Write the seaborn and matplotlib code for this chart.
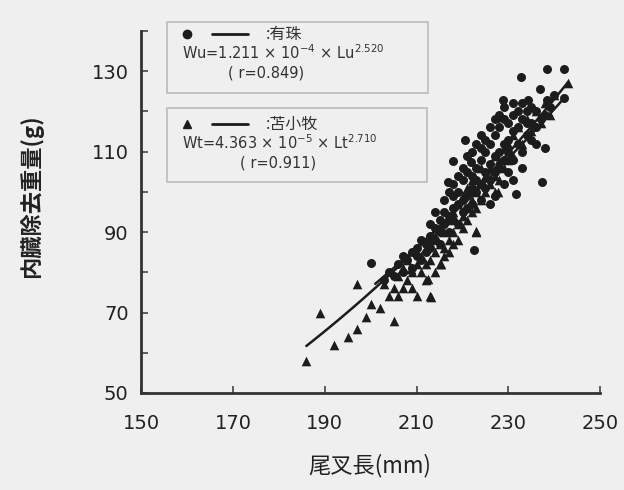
import numpy as np
import pandas as pd
import matplotlib
matplotlib.use("Agg")
import matplotlib.pyplot as plt
import seaborn as sns
from matplotlib.patches import Rectangle
from matplotlib.lines import Line2D

# 有珠 (circles)
usu_x = [238.3, 242, 232.7, 236.8, 228.8, 234.3, 238.3, 242, 227.7, 220.5, 217.9, 221.9,
         216.8, 237.2, 231.7, 237.9, 222.6, 200,
         203, 204, 205, 206, 207, 207, 208, 209, 209, 210, 210, 211, 211, 212, 212, 213, 213,
         214, 214, 215, 215, 215,
         216, 216, 217, 217, 218, 218, 219, 219, 219, 220, 220, 220, 221, 221, 222, 222, 222,
         223, 223, 223, 224, 224, 224, 225, 225, 225,
         226, 226, 226, 227, 227, 227, 228, 228, 228, 229, 229, 229, 230, 230, 230, 231, 231,
         231, 232, 232, 233, 233, 234, 234, 235, 235, 236, 236,
         213, 214, 216, 217, 218, 218, 219, 220, 221, 221, 222, 223, 224, 224, 225, 226, 227,
         228, 229, 230, 231, 232, 233, 234, 235, 236, 237, 238, 239, 240, 233, 231, 229, 227, 226]
usu_y = [130.6, 130.6, 128.5, 125.5, 122.7, 122.8, 122.8, 123.4, 118.3, 112.8, 107.6, 107.4,
         102.4, 102.4, 99.5, 110.8, 85.6, 82.3,
         78, 80, 79, 82, 80, 84, 83, 85, 81, 86, 84, 83, 88, 87, 85, 89, 86,
         88, 91, 90, 87, 93,
         92, 95, 94, 90, 96, 93, 97, 92, 100, 98, 95, 103, 99, 96, 101, 104, 97,
         100, 106, 103, 102, 108, 98, 105, 110, 101,
         107, 112, 103, 109, 114, 105, 110, 116, 106, 112, 108, 118, 113, 110, 105, 115, 108,
         119, 112, 116, 110, 118, 114, 120, 113, 117, 116, 120,
         92, 95, 98, 100, 99, 102, 104, 106, 105, 109, 110, 112, 111, 114, 113, 116, 118,
         119, 121, 117, 122, 120, 122, 117, 121, 112, 118, 119, 121, 124, 106, 103, 102, 99, 97]

# 苫小牧 (triangles)
toma_x = [186, 189, 192, 195, 197, 197, 199, 200, 202, 203, 204, 205, 205, 206, 206, 207, 207,
          208, 208, 209, 209, 210, 210, 210, 211, 211, 212, 212, 213, 213, 213, 214, 214, 215,
          215, 215, 216, 216, 217, 217, 218, 218, 219, 219, 220, 220, 221, 221, 222, 222, 223,
          223, 224, 224, 225, 226, 227, 227, 228, 229, 230, 231, 232, 234, 236, 238, 240, 243,
          212.4, 215.4, 223, 227.7, 208.8, 213.2,
          212, 214, 216, 217, 218, 219, 220, 221, 222, 223, 224, 225, 226, 227, 228, 229, 230,
          231, 233, 235, 237, 239]
toma_y = [58, 70, 62, 64, 66, 77, 69, 72, 71, 77, 74, 68, 76, 74, 79, 76, 81,
          78, 83, 80, 76, 74, 82, 85, 80, 84, 78, 86, 74, 83, 88, 85, 89, 82,
          87, 91, 86, 90, 88, 93, 90, 95, 92, 97, 94, 99, 96, 101, 98, 103, 90,
          100, 102, 106, 104, 106, 100, 109, 108, 111, 112, 114, 116, 118, 120, 122, 124, 127,
          78.3, 82, 90.3, 99.9, 80.8, 73.8,
          82, 80, 84, 85, 87, 88, 91, 93, 95, 96, 98, 100, 102, 104, 103, 106, 108,
          109, 112, 115, 117, 119]

# regression equations printed in the legend
usu_a, usu_b = 1.211e-4, 2.520
toma_a, toma_b = 4.363e-5, 2.710
usu_range = [201, 242]
toma_range = [186, 243]

x_ticks = [150, 170, 190, 210, 230, 250]
y_ticks = [50, 70, 90, 110, 130]

bg = "#efefef"
ink = "#1c1c1c"

sns.set_style("ticks")
plt.rcParams['font.family'] = ['DejaVu Sans', 'Noto Sans CJK JP']
plt.rcParams['mathtext.fontset'] = 'dejavusans'
cjk = ['Noto Sans CJK JP', 'DejaVu Sans']

fig = plt.figure(figsize=(6.24, 4.90), dpi=100, facecolor=bg)
ax = fig.add_axes([0.226, 0.198, 0.736, 0.739])
ax.set_facecolor(bg)

df_u = pd.DataFrame({"x": usu_x, "y": usu_y})
df_t = pd.DataFrame({"x": toma_x, "y": toma_y})
sns.scatterplot(data=df_u, x="x", y="y", marker="o", s=42, color=ink,
                edgecolor=ink, linewidth=0, ax=ax, zorder=3)
sns.scatterplot(data=df_t, x="x", y="y", marker="^", s=48, color=ink,
                edgecolor=ink, linewidth=0, ax=ax, zorder=3)

lu = np.linspace(usu_range[0], usu_range[1], 50)
lt = np.linspace(toma_range[0], toma_range[1], 50)
sns.lineplot(x=lu, y=usu_a * lu ** usu_b, color=ink, lw=1.8, ax=ax, zorder=4)
sns.lineplot(x=lt, y=toma_a * lt ** toma_b, color=ink, lw=1.8, ax=ax, zorder=4)

ax.set_xlim(150, 250)
ax.set_ylim(50, 140)
ax.set_xticks(x_ticks)
ax.set_yticks(y_ticks)
ax.set_yticks([60, 80, 100, 120, 140], minor=True)
ax.tick_params(axis="both", direction="in", length=5, width=1.2, colors="#444444",
               labelcolor="#222222", labelsize=14)
ax.tick_params(axis="x", pad=15)
ax.tick_params(axis="y", pad=9)
ax.tick_params(axis="y", which="minor", direction="in", length=5, width=1.2, colors="#444444")
for s in ["top", "right"]:
    ax.spines[s].set_visible(False)
for s in ["left", "bottom"]:
    ax.spines[s].set_linewidth(2)
    ax.spines[s].set_color("#333333")

ax.set_xlabel("")
ax.set_ylabel("")
fig.text(0.593, 0.05, "尾叉長(mm)", ha="center", va="center", fontsize=16,
         color="#222222", family=cjk)
fig.text(0.05, 0.60, "内臓除去重量(g)", ha="center", va="center", rotation=90,
         fontsize=16, color="#222222", fontweight="bold", family=cjk)

# legend boxes drawn in figure pixels
def px(x, y):
    return x / 624, 1 - y / 490

for (x0, y0, x1, y1) in [(167, 22, 428, 93), (167, 108, 427, 182)]:
    a, b = px(x0, y1)
    fig.patches.append(Rectangle((a, b), (x1 - x0) / 624, (y1 - y0) / 490,
                                 transform=fig.transFigure, fill=False,
                                 edgecolor="#bbbbbb", lw=1.2))

def legend_row(y, marker, ms, name):
    fig.lines.append(Line2D([px(187, 0)[0]], [px(0, y)[1]], marker=marker, ms=ms,
                            color=ink, lw=0, transform=fig.transFigure))
    fig.lines.append(Line2D([px(212, 0)[0], px(248, 0)[0]], [px(0, y)[1]] * 2,
                            color=ink, lw=2, transform=fig.transFigure))
    fig.text(*px(266, y), ":" + name, ha="left", va="center", fontsize=11.5,
             color="#333333", family=cjk)

legend_row(34, "o", 6, "有珠")
legend_row(124, "^", 6, "苫小牧")
fig.text(*px(182, 53), r"Wu=1.211 × 10$^{-4}$ × Lu$^{2.520}$", ha="left", va="center",
         fontsize=10.5, color="#333333")
fig.text(*px(228, 73), "( r=0.849)", ha="left", va="center", fontsize=10.5, color="#333333")
fig.text(*px(182, 143), r"Wt=4.363 × 10$^{-5}$ × Lt$^{2.710}$", ha="left", va="center",
         fontsize=10.5, color="#333333")
fig.text(*px(240, 163), "( r=0.911)", ha="left", va="center", fontsize=10.5, color="#333333")

fig.savefig("out.png", dpi=100, facecolor=bg)
